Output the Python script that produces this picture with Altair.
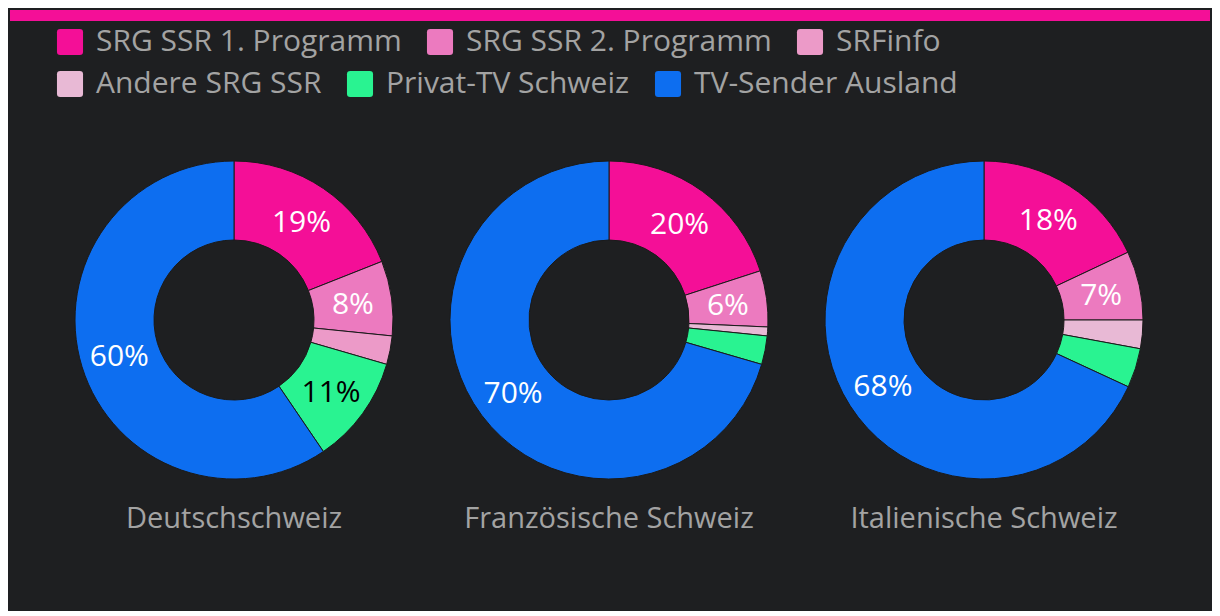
import altair as alt
import pandas as pd

regions = ["Deutschschweiz", "Französische Schweiz", "Italienische Schweiz"]
categories = ["SRG SSR 1. Programm", "SRG SSR 2. Programm", "SRFinfo",
              "Andere SRG SSR", "Privat-TV Schweiz", "TV-Sender Ausland"]
colors = ["#f40f97", "#ec7abf", "#ec9ac8", "#e8b9d5", "#29f391", "#0d6ef0"]

srg1 = [19.0, 20.0, 18.0]
srg2 = [7.6, 5.7, 7.0]
srfinfo = [2.9, 0.0, 0.0]
andere = [0.0, 0.9, 2.9]
privat = [11.0, 2.9, 4.0]
ausland = [59.5, 70.5, 68.1]

series = [srg1, srg2, srfinfo, andere, privat, ausland]
rows = []
for ri, reg in enumerate(regions):
    for ci, cat in enumerate(categories):
        v = series[ci][ri]
        if v <= 0:
            continue
        rows.append({
            "region": reg, "cat": cat, "idx": ci, "value": v,
            "label": f"{round(v)}%" if v >= 5 else "",
        })
df = pd.DataFrame(rows)

BG = "#1e1f21"
GRAY = "#a3a3a3"
FONT = "Open Sans"

rounded = ("M-0.75,-1H0.75Q1,-1 1,-0.75V0.75Q1,1 0.75,1H-0.75Q-1,1 -1,0.75"
           "V-0.75Q-1,-1 -0.75,-1Z")


def legend(y):
    return alt.Legend(
        title=None, orient="none", legendX=45, legendY=y,
        direction="horizontal", columnPadding=23,
        symbolType=rounded, symbolSize=680,
        symbolStrokeWidth=0, symbolOpacity=1,
        labelFontSize=30, labelColor=GRAY, labelFont=FONT,
        labelOffset=11, labelLimit=400)


theta_scale = alt.Scale(domain=[0, 100])

base = alt.Chart().transform_window(
    cum="sum(value)", groupby=["region"], sort=[alt.SortField("idx")],
    frame=[None, 0],
).transform_calculate(
    start="datum.cum - datum.value",
    mid="datum.cum - datum.value / 2",
)

arc_style = dict(innerRadius=80, outerRadius=159, stroke="#1a1a1a",
                 strokeWidth=1)

arcs_a = base.transform_filter(alt.datum.idx < 3).mark_arc(**arc_style).encode(
    theta=alt.Theta("start:Q", scale=theta_scale, stack=None),
    theta2="cum:Q",
    fill=alt.Fill("cat:N", scale=alt.Scale(domain=categories[:3],
                                           range=colors[:3]),
                  legend=legend(17)),
)

arcs_b = base.transform_filter(alt.datum.idx >= 3).mark_arc(**arc_style).encode(
    theta=alt.Theta("start:Q", scale=theta_scale, stack=None),
    theta2="cum:Q",
    color=alt.Color("cat:N", scale=alt.Scale(domain=categories[3:],
                                             range=colors[3:]),
                    legend=legend(59)),
)

texts = base.mark_text(radius=120, fontSize=30, font=FONT, dy=2).encode(
    theta=alt.Theta("mid:Q", scale=theta_scale, stack=None),
    text="label:N",
    color=alt.condition(alt.datum.cat == "Privat-TV Schweiz",
                        alt.value("black"), alt.value("white")),
)

donuts = alt.layer(arcs_a, arcs_b, texts, data=df).properties(
    width=318, height=318
).facet(
    column=alt.Column("region:N", sort=regions, title=None,
                      header=alt.Header(labelOrient="bottom", labelFontSize=29,
                                        labelColor=GRAY, labelFont=FONT,
                                        labelPadding=24)),
    spacing=53,
)

bar = alt.Chart(pd.DataFrame({"a": [0]})).mark_rect(color="#f40f97").encode(
    x=alt.value(0), x2=alt.value(1200), y=alt.value(0), y2=alt.value(11)
).properties(width=1200, height=11)

chart = alt.vconcat(bar, donuts, spacing=138, center=True).properties(
    background=BG,
    padding={"left": 2, "top": 2, "right": 2, "bottom": 77},
).configure_view(stroke=None)

chart.save("out.html", embed_options={"renderer": "svg", "actions": False})
